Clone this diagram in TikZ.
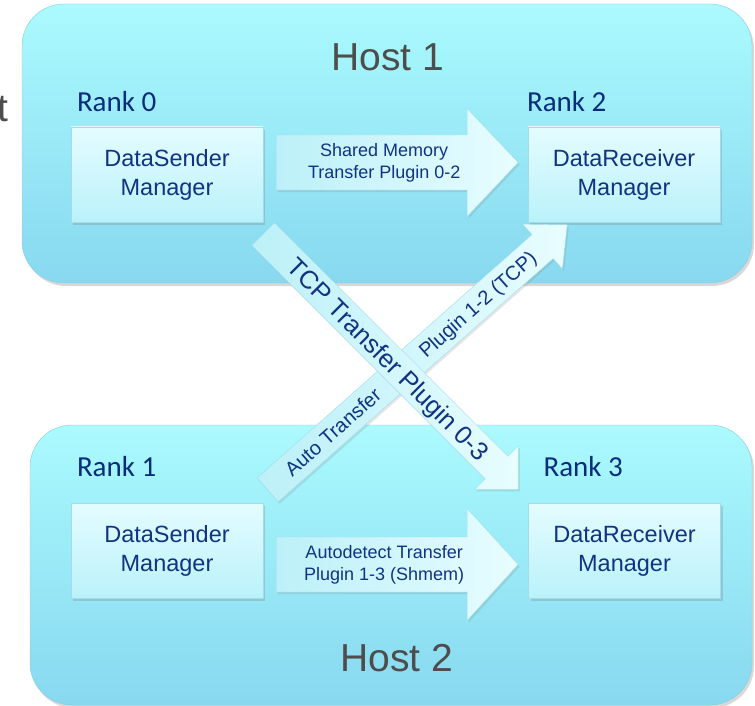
\documentclass[tikz,border=0pt]{standalone}
\usepackage{fontspec}
\setmainfont{Liberation Sans}
\newfontfamily\rankfont{Carlito}
\usetikzlibrary{positioning}
\usetikzlibrary{calc}
\usetikzlibrary{shadows}

\definecolor{hosttop}{RGB}{170,250,254}
\definecolor{hostbot}{RGB}{136,216,240}
\definecolor{hostline}{RGB}{140,205,225}
\definecolor{boxtop}{RGB}{228,252,255}
\definecolor{boxbot}{RGB}{186,242,250}
\definecolor{boxline}{RGB}{160,220,235}
\definecolor{arrowdark}{RGB}{188,240,248}
\definecolor{arrowlight}{RGB}{232,253,255}
\definecolor{navy}{RGB}{16,52,130}
\definecolor{ranknavy}{RGB}{10,44,122}
\definecolor{hostgray}{RGB}{77,77,77}

% tail, angle, length, shaft half width, head half width, head length, labels
\newcommand{\fatarrow}[7]{%
    \begin{scope}[shift={(#1)}, rotate=#2]
        \path[arrowshape] (0,-#4) -- ({#3-#6},-#4) -- ({#3-#6},-#5) -- (#3,0)
            -- ({#3-#6},#5) -- ({#3-#6},#4) -- (0,#4) -- cycle;
        #7
    \end{scope}}

\begin{document}
\begin{tikzpicture}[x=1pt, y=-1pt,
        host/.style={draw=hostline, rounded corners=42pt, top color=hosttop, bottom color=hostbot,
            drop shadow={opacity=0.3, shadow xshift=2pt, shadow yshift=-3pt}},
        hostlabel/.style={text=hostgray, font=\fontsize{39}{46}\selectfont, inner sep=0pt},
        ranklabel/.style={text=ranknavy, font=\rankfont\fontsize{29}{35}\selectfont, inner sep=0pt},
        manager/.style={draw=boxline, top color=boxtop, bottom color=boxbot, align=center,
            minimum width=192pt, minimum height=95pt, text=navy, font=\fontsize{23.5}{29}\selectfont,
            drop shadow={opacity=0.3, shadow xshift=2pt, shadow yshift=-3pt}},
        arrowshape/.style={draw=boxline, left color=arrowdark, right color=arrowlight,
            drop shadow={opacity=0.2, shadow xshift=1.5pt, shadow yshift=-2pt}},
        flowtext/.style={text=navy, align=center, inner sep=0pt, font=\fontsize{18}{22}\selectfont},
        tcptext/.style={text=navy, inner sep=0pt, anchor=base, font=\fontsize{25.5}{30}\selectfont},
        autotext/.style={text=navy, inner sep=0pt, anchor=base, font=\fontsize{20}{24}\selectfont}]

    \fill[white] (0,0) rectangle (755,706);
    \useasboundingbox (0,0) rectangle (755,706);

    % hosts
    \draw[host] (22,4) rectangle (752,283);
    \draw[host] (30,425) rectangle (752,705);
    \node[hostlabel, anchor=base] (host1) at (388,71) {Host 1};
    \node[hostlabel, anchor=base] (host2) at (397,671) {Host 2};
    \node[hostlabel, anchor=base east] (hostcut) at (8.5,122) {t};

    % managers
    \node[manager] (s0) at (167,174.5) {DataSender\\Manager};
    \node[manager] (r2) at (624,174.5) {DataReceiver\\Manager};
    \node[manager] (s1) at (167,550.5) {DataSender\\Manager};
    \node[manager] (r3) at (624.5,550.5) {DataReceiver\\Manager};

    \node[ranklabel, above right=15pt and 6pt of s0.north west] (rank0) {Rank 0};
    \node[ranklabel, above right=15pt and -1pt of r2.north west] (rank2) {Rank 2};
    \node[ranklabel, above right=26pt and 6pt of s1.north west] (rank1) {Rank 1};
    \node[ranklabel, above right=26pt and 15pt of r3.north west] (rank3) {Rank 3};

    % transfer plugins
    \coordinate (a02) at ($(s0.east)+(13,-12)$);
    \coordinate (a13) at ($(s1.east)+(13,14)$);
    \coordinate (a12) at ($(s1.north east)+(4.5,-13)$);
    \coordinate (a03) at ($(s0.south east)+(0,12)$);

    \fatarrow{a02}{0}{242}{27.5}{54}{51}{}
    \node[flowtext] (t02) at ($(a02)+(108,0)$) {Shared Memory\\Transfer Plugin 0-2};
    \fatarrow{a13}{0}{242}{27.5}{56}{51}{}
    \node[flowtext] (t13) at ($(a13)+(108,0)$) {Autodetect Transfer\\Plugin 1-3 (Shmem)};

    \fatarrow{a12}{41.5}{400}{16}{30}{33}{%
        \node[autotext, rotate=41.5] (t12a) at (87,7) {Auto Transfer};
        \node[autotext, rotate=41.5] (t12b) at (280,7) {Plugin 1-2 (TCP)};}
    \fatarrow{a03}{-45}{361}{16}{31}{31}{%
        \node[tcptext, rotate=-45] (t03) at (177,9) {TCP Transfer Plugin 0-3};}
\end{tikzpicture}
\end{document}
